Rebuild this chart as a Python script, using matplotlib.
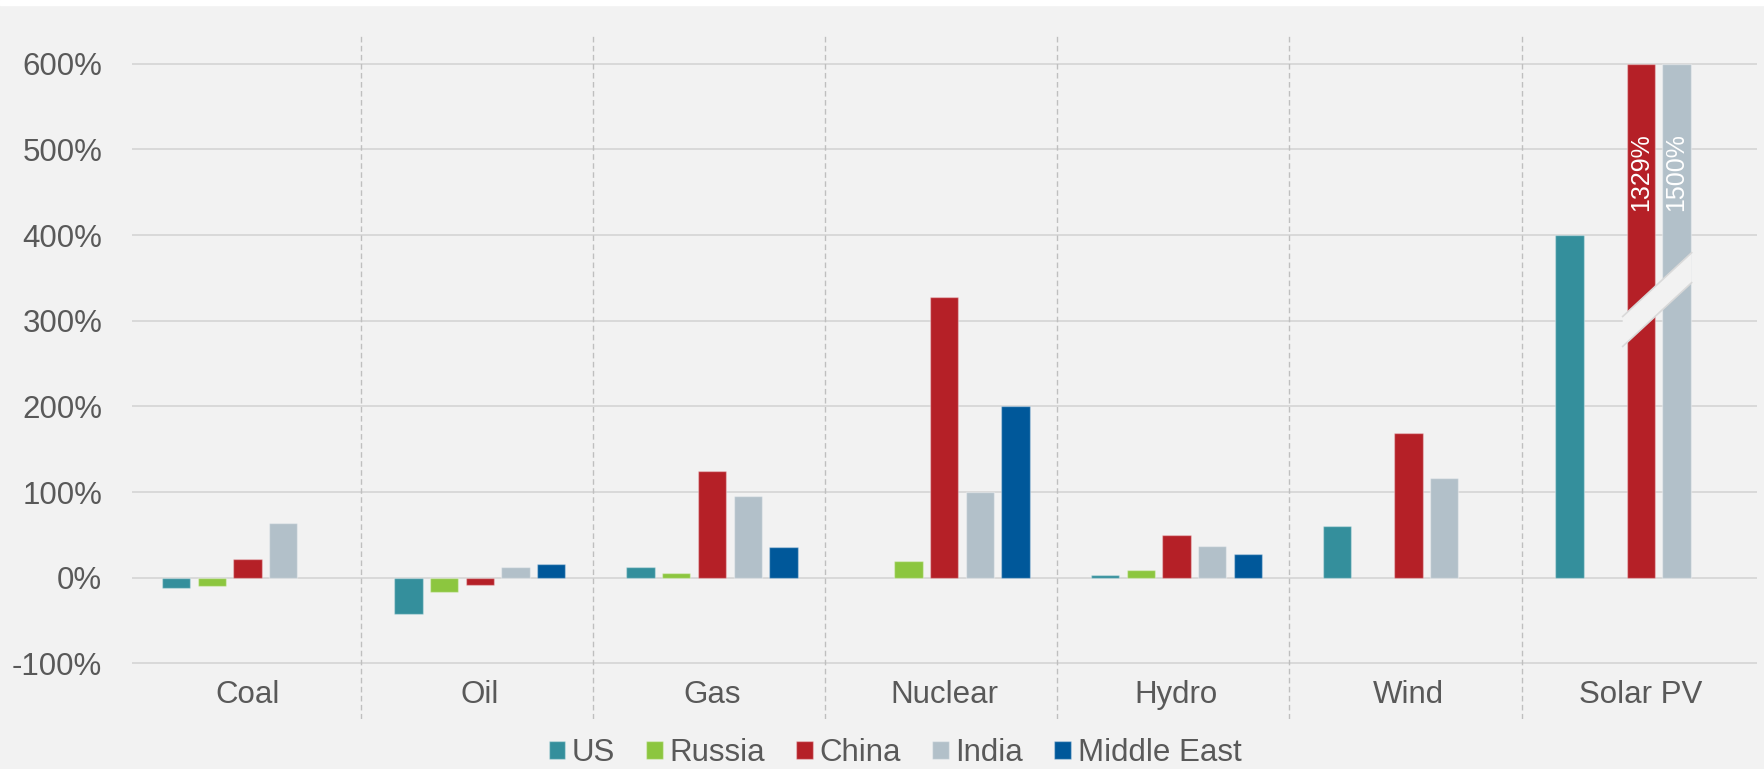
import numpy as np
import matplotlib
matplotlib.use("Agg")
import matplotlib.pyplot as plt
from matplotlib.patches import Polygon, Rectangle

plt.rcParams['font.family'] = ['Liberation Sans', 'DejaVu Sans']

# ---- data ----
categories = ["Coal", "Oil", "Gas", "Nuclear", "Hydro", "Wind", "Solar PV"]
series_names = ["US", "Russia", "China", "India", "Middle East"]
us = [-12, -42, 13, np.nan, 3.5, 60, 400]
russia = [-10, -17, 5, 19, 9, np.nan, np.nan]
china = [22, -9, 125, 328, 50, 169, 1329]
india = [64, 12, 95, 100, 37, 116, 1500]
middle_east = [np.nan, 16, 36, 200, 28, np.nan, np.nan]
yticks = [-100, 0, 100, 200, 300, 400, 500, 600]
axis_cap = 600  # bars beyond this are truncated (axis break)

series = [us, russia, china, india, middle_east]
colors = ["#348F9C", "#8CC63F", "#B52027", "#B2C0C9", "#00589A"]

bg = "#F2F2F2"
txt = "#595959"
fs = 22.5

fig = plt.figure(figsize=(17.64, 7.69), dpi=100, facecolor=bg)
fig.patches.append(Rectangle((0, 1 - 5 / 769), 1, 5 / 769, transform=fig.transFigure,
                             color="white", zorder=-1))
ax = fig.add_axes([131.5 / 1764, 50 / 769, 1625.4 / 1764, 686 / 769])
ax.set_facecolor(bg)

x = np.arange(len(categories))
slot = 0.1537
width = 0.122
handles = []
for i, (vals, col, name) in enumerate(zip(series, colors, series_names)):
    v = np.array(vals, dtype=float)
    shown = np.minimum(v, axis_cap)
    b = ax.bar(x + (i - 2) * slot, shown, width, color=col,
               edgecolor=(1, 1, 1, 0.35), linewidth=1, zorder=3, label=name)
    handles.append(b)

ax.set_xlim(-0.5, len(categories) - 0.5)
ax.set_ylim(-165, 636)
ax.set_yticks(yticks)
ax.set_yticklabels([f"{t}%" for t in yticks])
ax.tick_params(axis="y", length=0, pad=21, labelsize=fs, labelcolor=txt)
ax.set_xticks([])
ax.yaxis.grid(True, color="#D9D9D9", linewidth=1.4, zorder=1)
ax.set_axisbelow(True)
for s in ax.spines.values():
    s.set_visible(False)

# category separators
for k in range(len(categories) - 1):
    ax.axvline(k + 0.487, color="#BFBFBF", linewidth=1, linestyle=(0, (4, 2.5)), zorder=2)

# category labels
for xi, name in zip(x, categories):
    ax.text(xi, -137, name, ha="center", va="center", fontsize=fs, color=txt)

# axis break on truncated bars
xb0, xb1 = 5.922, 6.219
band = Polygon([(xb0, 305), (xb1, 379.5), (xb1, 344.5), (xb0, 270)], closed=True,
               facecolor=bg, edgecolor="none", zorder=5)
ax.add_patch(band)
ax.plot([xb0, xb1], [305, 379.5], color="#D9D9D9", lw=1.2, zorder=6)
ax.plot([xb0, xb1], [270, 344.5], color="#D9D9D9", lw=1.2, zorder=6)

# labels for truncated bars
for i, vals in enumerate(series):
    v = vals[-1]
    if not np.isnan(v) and v > axis_cap:
        ax.text(x[-1] + (i - 2) * slot, 474, f"{v:.0f}%", rotation=90, ha="center",
                va="center", color="white", fontsize=18, zorder=7)

fig.legend(handles=handles, labels=series_names, loc="center", ncol=5,
           bbox_to_anchor=(895 / 1764, 1 - 753 / 769), frameon=False, fontsize=fs,
           labelcolor=txt, handlelength=0.52, handleheight=0.52, handletextpad=0.22,
           columnspacing=1.0, borderpad=0, borderaxespad=0)

fig.savefig("out.png", dpi=100, facecolor=fig.get_facecolor())
